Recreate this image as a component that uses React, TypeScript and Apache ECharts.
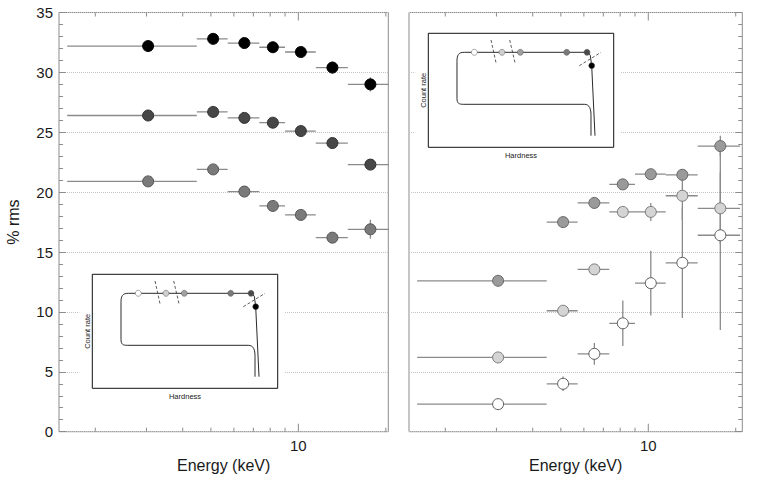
import React, { useEffect, useRef } from 'react';
import * as echarts from 'echarts';

// Energy bins (keV)
const binLow = [1.6, 4.47, 5.71, 7.34, 9.0, 11.48, 14.8];
const binHigh = [4.47, 5.71, 7.34, 9.0, 11.48, 14.8, 20.7];
const energy = [3.04, 5.09, 6.52, 8.17, 10.2, 13.1, 17.7];

// Left panel (% rms)
const leftBlack = [32.2, 32.8, 32.45, 32.1, 31.7, 30.4, 29.0];
const leftBlackErr = [0.2, 0.2, 0.2, 0.2, 0.2, 0.5, 0.6];
const leftDark = [26.4, 26.7, 26.2, 25.8, 25.1, 24.1, 22.3];
const leftDarkErr = [0.15, 0.15, 0.15, 0.15, 0.2, 0.3, 0.35];
const leftMid = [20.9, 21.9, 20.05, 18.85, 18.1, 16.2, 16.9];
const leftMidErr = [0.15, 0.2, 0.2, 0.2, 0.25, 0.45, 0.8];

// Right panel (% rms)
const rightGray = [12.6, 17.5, 19.1, 20.65, 21.5, 21.45, 23.85];
const rightGrayErr = [0.15, 0.2, 0.25, 0.3, 0.3, 0.35, 0.85];
const rightLight = [6.2, 10.1, 13.55, 18.35, 18.35, 19.7, 18.65];
const rightLightErr = [0.15, 0.3, 0.35, 0.4, 0.75, 2.0, 3.0];
const rightWhite = [2.3, 4.0, 6.5, 9.05, 12.4, 14.1, 16.4];
const rightWhiteErr = [0.15, 0.6, 0.9, 1.9, 2.7, 4.6, 7.9];

// Axis ticks
const xTicks = [2, 3, 4, 5, 6, 7, 8, 9, 10, 20];
const xMajorTicks = [10];
const xTickLabels = [10];

const FONT = '"Liberation Sans", Arial, Helvetica, sans-serif';
const AXIS_COLOR = '#8c8c8c';
const BAR_COLOR = '#8a8a8a';
const TEXT_COLOR = '#1a1a1a';

function errData(vals: number[], errs: number[]) {
  return vals.map((v, i) => [energy[i], v, binLow[i], binHigh[i], v - errs[i], v + errs[i]]);
}

function errSeries(idx: number, vals: number[], errs: number[]) {
  return {
    type: 'custom',
    xAxisIndex: idx,
    yAxisIndex: idx,
    clip: true,
    silent: true,
    z: 2,
    encode: { x: 0, y: 1 },
    data: errData(vals, errs),
    renderItem: (params: any, api: any) => {
      const p = api.coord([api.value(0), api.value(1)]);
      const l = api.coord([api.value(2), api.value(1)]);
      const r = api.coord([api.value(3), api.value(1)]);
      const lo = api.coord([api.value(0), api.value(4)]);
      const hi = api.coord([api.value(0), api.value(5)]);
      const style = { stroke: BAR_COLOR, lineWidth: 1.3 };
      return {
        type: 'group',
        children: [
          { type: 'line', shape: { x1: l[0], y1: p[1], x2: r[0], y2: p[1] }, style },
          { type: 'line', shape: { x1: p[0], y1: lo[1], x2: p[0], y2: hi[1] }, style },
        ],
      };
    },
  };
}

function markerSeries(idx: number, vals: number[], fill: string, border: string) {
  return {
    type: 'scatter',
    xAxisIndex: idx,
    yAxisIndex: idx,
    symbol: 'circle',
    symbolSize: 11,
    z: 3,
    silent: true,
    itemStyle: { color: fill, borderColor: border, borderWidth: 1, opacity: 1 },
    data: vals.map((v, i) => [energy[i], v]),
  };
}

function tickSeries(idx: number) {
  return {
    type: 'custom',
    xAxisIndex: idx,
    yAxisIndex: idx,
    clip: false,
    silent: true,
    z: 4,
    encode: { x: 0, y: 1 },
    data: xTicks.map((v) => [v, 1]),
    renderItem: (params: any, api: any) => {
      const v = api.value(0);
      const x = api.coord([v, 1])[0];
      const cs = params.coordSys;
      const len = xMajorTicks.includes(v) ? 8 : 4;
      const bottom = cs.y + cs.height;
      const style = { stroke: AXIS_COLOR, lineWidth: 1 };
      const children: any[] = [
        { type: 'line', shape: { x1: x, y1: bottom, x2: x, y2: bottom - len }, style },
        { type: 'line', shape: { x1: x, y1: cs.y, x2: x, y2: cs.y + len }, style },
      ];
      if (xTickLabels.includes(v)) {
        children.push({
          type: 'text',
          x,
          y: bottom + 6,
          style: {
            text: String(v),
            fontSize: 15,
            fontFamily: FONT,
            fill: TEXT_COLOR,
            align: 'center',
            verticalAlign: 'top',
          },
        });
      }
      return { type: 'group', children };
    },
  };
}

function inset(ox: number, oy: number) {
  const Z = 100;
  const track = { stroke: '#2a2a2a', lineWidth: 1, fill: 'none' };
  const dash = { stroke: '#333', lineWidth: 0.8, lineDash: [3, 2] };
  const dot = (x: number, y: number, fill: string) => ({
    type: 'circle',
    z: Z + 2,
    shape: { cx: x, cy: y, r: 3 },
    style: { fill, stroke: '#555', lineWidth: 0.5 },
  });
  return {
    type: 'group',
    x: ox,
    y: oy,
    children: [
      { type: 'rect', z: Z, shape: { x: -13, y: -8, width: 205, height: 138 }, style: { fill: '#fff' } },
      { type: 'rect', z: Z + 1, shape: { x: 0, y: 0, width: 185.4, height: 114 }, style: { fill: 'none', stroke: '#111', lineWidth: 1 } },
      { type: 'bezierCurve', z: Z + 1, shape: { x1: 36, y1: 19, cpx1: 30, cpy1: 19, cpx2: 28.7, cpy2: 22, x2: 28.7, y2: 28 }, style: track },
      { type: 'line', z: Z + 1, shape: { x1: 28.7, y1: 28, x2: 28.7, y2: 65 }, style: track },
      { type: 'bezierCurve', z: Z + 1, shape: { x1: 28.7, y1: 65, cpx1: 28.7, cpy1: 70, cpx2: 30.5, cpy2: 71, x2: 35, y2: 71 }, style: track },
      { type: 'line', z: Z + 1, shape: { x1: 35, y1: 71, x2: 156, y2: 71 }, style: track },
      { type: 'bezierCurve', z: Z + 1, shape: { x1: 156, y1: 71, cpx1: 161.5, cpy1: 71, cpx2: 162.7, cpy2: 76, x2: 162.7, y2: 82 }, style: track },
      { type: 'line', z: Z + 1, shape: { x1: 162.7, y1: 82, x2: 162.7, y2: 102.4 }, style: track },
      {
        type: 'polyline',
        z: Z + 1,
        shape: { points: [[36, 19], [159.4, 19], [162, 22], [163.4, 32.4], [166.7, 102.4]] },
        style: track,
      },
      { type: 'line', z: Z + 1, shape: { x1: 62.7, y1: 6.7, x2: 68, y2: 30.7 }, style: dash },
      { type: 'line', z: Z + 1, shape: { x1: 81.4, y1: 6.7, x2: 87, y2: 30.7 }, style: dash },
      { type: 'line', z: Z + 1, shape: { x1: 151, y1: 32.4, x2: 172.7, y2: 19 }, style: dash },
      dot(46, 19, '#ffffff'),
      dot(73.7, 19, '#d0d0d0'),
      dot(92, 19, '#a0a0a0'),
      dot(138.4, 19, '#7a7a7a'),
      dot(158.7, 19, '#4a4a4a'),
      dot(163.4, 32.4, '#000000'),
      {
        type: 'text',
        z: Z + 2,
        x: 92.7,
        y: 121.7,
        style: { text: 'Hardness', fontSize: 7.5, fontFamily: FONT, fill: '#222', align: 'center', verticalAlign: 'middle' },
      },
      {
        type: 'text',
        z: Z + 2,
        x: -5,
        y: 57,
        rotation: Math.PI / 2,
        style: { text: 'Count rate', fontSize: 7.5, fontFamily: FONT, fill: '#222', align: 'center', verticalAlign: 'middle' },
      },
    ],
  };
}

function yAxisOpt(idx: number, side: 'left' | 'right', showLabels: boolean) {
  return {
    type: 'value',
    gridIndex: idx,
    position: side,
    min: 0,
    max: 35,
    interval: 5,
    axisLine: { show: false },
    axisTick: { show: true, inside: true, length: 7, lineStyle: { color: AXIS_COLOR, width: 1 } },
    minorTick: { show: true, splitNumber: 5, length: 4, lineStyle: { color: AXIS_COLOR, width: 1 } },
    axisLabel: { show: showLabels, fontSize: 15, color: TEXT_COLOR, fontFamily: FONT, margin: 6 },
    splitLine: { show: true, lineStyle: { type: 'dotted', color: '#c4c4c4', width: 1 } },
    name: showLabels ? '% rms' : '',
    nameLocation: 'middle',
    nameGap: 38,
    nameTextStyle: { fontSize: 16, color: TEXT_COLOR, fontFamily: FONT },
  };
}

function xAxisOpt(idx: number, max: number) {
  return {
    type: 'log',
    logBase: 10,
    gridIndex: idx,
    min: 1.5,
    max,
    axisLine: { show: false },
    axisTick: { show: false },
    axisLabel: { show: false },
    splitLine: { show: false },
    minorTick: { show: false },
    name: 'Energy (keV)',
    nameLocation: 'middle',
    nameGap: 26,
    nameTextStyle: { fontSize: 16, color: TEXT_COLOR, fontFamily: FONT },
  };
}

export default function App() {
  const ref = useRef<HTMLDivElement>(null);
  useEffect(() => {
    if (!ref.current) return;
    const chart = echarts.init(ref.current, undefined, { renderer: 'svg' });
    chart.setOption({
      animation: false,
      backgroundColor: '#ffffff',
      textStyle: { fontFamily: FONT },
      grid: [
        { left: 59, top: 12.5, width: 329.3, height: 419.2, show: true, borderColor: AXIS_COLOR, borderWidth: 1, backgroundColor: 'transparent' },
        { left: 409, top: 12.5, width: 333.3, height: 419.2, show: true, borderColor: AXIS_COLOR, borderWidth: 1, backgroundColor: 'transparent' },
      ],
      xAxis: [xAxisOpt(0, 20.4), xAxisOpt(1, 21.07)],
      yAxis: [yAxisOpt(0, 'left', true), yAxisOpt(1, 'right', false)],
      graphic: [inset(92.3, 274.3), inset(428.3, 33.3)],
      series: [
        tickSeries(0),
        tickSeries(1),
        errSeries(0, leftMid, leftMidErr),
        errSeries(0, leftDark, leftDarkErr),
        errSeries(0, leftBlack, leftBlackErr),
        errSeries(1, rightWhite, rightWhiteErr),
        errSeries(1, rightLight, rightLightErr),
        errSeries(1, rightGray, rightGrayErr),
        markerSeries(0, leftMid, '#7a7a7a', '#555555'),
        markerSeries(0, leftDark, '#474747', '#303030'),
        markerSeries(0, leftBlack, '#000000', '#000000'),
        markerSeries(1, rightWhite, '#ffffff', '#5a5a5a'),
        markerSeries(1, rightLight, '#d4d4d4', '#7a7a7a'),
        markerSeries(1, rightGray, '#9a9a9a', '#666666'),
      ],
    });
    return () => chart.dispose();
  }, []);
  return (
    <div
      ref={ref}
      style={{ position: 'fixed', left: 0, top: 0, width: 763, height: 480, background: '#fff' }}
    />
  );
}
